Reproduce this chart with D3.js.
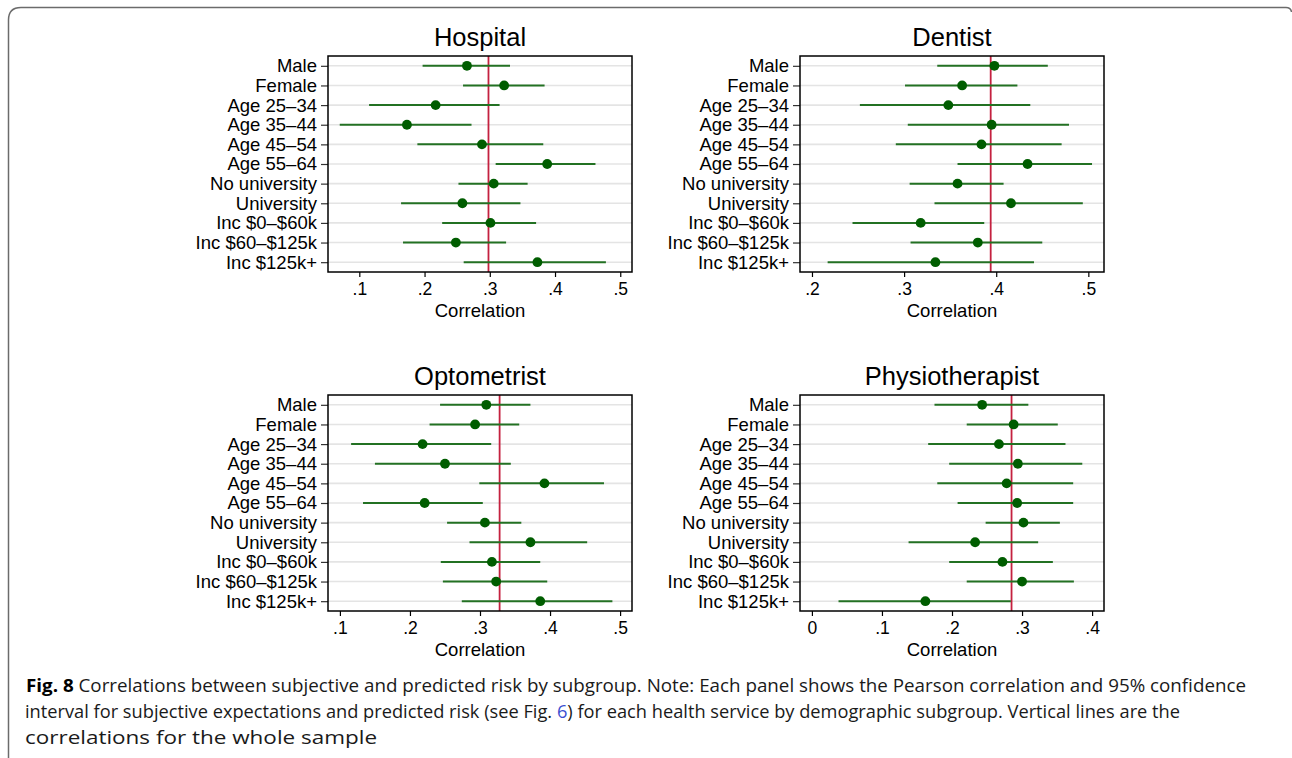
<!DOCTYPE html>
<html>
<head>
<meta charset="utf-8">
<script src="https://cdn.jsdelivr.net/npm/d3@7"></script>
<style>
  html, body { margin: 0; padding: 0; background: #fff; }
  svg { display: block; }
</style>
</head>
<body>
<svg id="fig" width="1292" height="758"></svg>
<script>
// subgroups, top to bottom
const groups = ["Male", "Female", "Age 25\u201334", "Age 35\u201344", "Age 45\u201354", "Age 55\u201364",
  "No university", "University", "Inc $0\u2013$60k", "Inc $60\u2013$125k", "Inc $125k+"];

// Hospital
const hospitalEst = [0.265, 0.322, 0.217, 0.173, 0.288, 0.388, 0.306, 0.258, 0.301, 0.248, 0.373];
const hospitalLo  = [0.197, 0.259, 0.115, 0.070, 0.189, 0.309, 0.252, 0.164, 0.227, 0.167, 0.260];
const hospitalHi  = [0.331, 0.384, 0.315, 0.272, 0.382, 0.462, 0.358, 0.347, 0.371, 0.325, 0.478];
const hospitalAll = 0.298;
const hospitalTicks = [0.1, 0.2, 0.3, 0.4, 0.5];

// Dentist
const dentistEst = [0.398, 0.363, 0.348, 0.395, 0.384, 0.434, 0.358, 0.416, 0.318, 0.380, 0.334];
const dentistLo  = [0.336, 0.301, 0.252, 0.304, 0.291, 0.358, 0.306, 0.333, 0.244, 0.307, 0.217];
const dentistHi  = [0.456, 0.423, 0.437, 0.479, 0.471, 0.504, 0.408, 0.494, 0.387, 0.450, 0.441];
const dentistAll = 0.394;
const dentistTicks = [0.2, 0.3, 0.4, 0.5];

// Optometrist
const optomEst = [0.309, 0.293, 0.218, 0.250, 0.392, 0.221, 0.307, 0.372, 0.317, 0.323, 0.386];
const optomLo  = [0.243, 0.228, 0.116, 0.150, 0.299, 0.133, 0.253, 0.285, 0.244, 0.247, 0.274];
const optomHi  = [0.372, 0.356, 0.316, 0.344, 0.477, 0.304, 0.359, 0.453, 0.386, 0.396, 0.489];
const optomAll = 0.328;
const optomTicks = [0.1, 0.2, 0.3, 0.4, 0.5];

// Physiotherapist
const physioEst = [0.243, 0.288, 0.267, 0.294, 0.278, 0.293, 0.302, 0.233, 0.272, 0.300, 0.162];
const physioLo  = [0.175, 0.221, 0.166, 0.196, 0.179, 0.208, 0.248, 0.138, 0.196, 0.221, 0.038];
const physioHi  = [0.309, 0.351, 0.362, 0.386, 0.373, 0.373, 0.354, 0.323, 0.344, 0.374, 0.284];
const physioAll = 0.285;
const physioTicks = [0, 0.1, 0.2, 0.3, 0.4];

const panels = [
  { title: "Hospital", est: hospitalEst, lo: hospitalLo, hi: hospitalHi, all: hospitalAll,
    ticks: hospitalTicks, domain: [0.052, 0.518], x0: 328, y0: 56 },
  { title: "Dentist", est: dentistEst, lo: dentistLo, hi: dentistHi, all: dentistAll,
    ticks: dentistTicks, domain: [0.187, 0.517], x0: 800, y0: 56 },
  { title: "Optometrist", est: optomEst, lo: optomLo, hi: optomHi, all: optomAll,
    ticks: optomTicks, domain: [0.083, 0.517], x0: 328, y0: 395 },
  { title: "Physiotherapist", est: physioEst, lo: physioLo, hi: physioHi, all: physioAll,
    ticks: physioTicks, domain: [-0.017, 0.417], x0: 800, y0: 395 }
];

const boxW = 304, boxH = 216;
const font = "'Liberation Sans', Arial, Helvetica, sans-serif";
const svg = d3.select("#fig");

// frame round the figure (open at the bottom)
svg.append("path")
  .attr("d", "M8.5,758 L8.5,20 Q8.5,7.5 21,7.5 L1286,7.5 Q1291,7.5 1291.5,12")
  .attr("fill", "none")
  .attr("stroke", "#6b6b6b")
  .attr("stroke-width", 1.5);

function tickLabel(v) {
  if (v === 0) return "0";
  return d3.format(".1f")(v).replace(/^0/, "");
}

panels.forEach(p => {
  const g = svg.append("g").attr("transform", "translate(" + p.x0 + "," + p.y0 + ")");

  const x = d3.scaleLinear().domain(p.domain).range([0, boxW]);
  const y = d3.scalePoint().domain(groups).range([0, boxH]).padding(0.5);

  // light grid lines for each subgroup
  g.selectAll(".grid").data(groups).enter()
    .append("line")
    .attr("x1", 0).attr("x2", boxW)
    .attr("y1", d => y(d)).attr("y2", d => y(d))
    .attr("stroke", "#e4e4e4")
    .attr("stroke-width", 1.6);

  // whole-sample line
  g.append("line")
    .attr("x1", x(p.all)).attr("x2", x(p.all))
    .attr("y1", 0).attr("y2", boxH)
    .attr("stroke", "#c4213f")
    .attr("stroke-width", 1.8);

  // confidence intervals
  g.selectAll(".ci").data(groups).enter()
    .append("line")
    .attr("x1", (d, i) => x(p.lo[i]))
    .attr("x2", (d, i) => x(p.hi[i]))
    .attr("y1", d => y(d)).attr("y2", d => y(d))
    .attr("stroke", "#237123")
    .attr("stroke-width", 2);

  // point estimates
  g.selectAll(".dot").data(groups).enter()
    .append("circle")
    .attr("cx", (d, i) => x(p.est[i]))
    .attr("cy", d => y(d))
    .attr("r", 4.9)
    .attr("fill", "#005d00");

  // y axis
  const yAxis = g.append("g")
    .call(d3.axisLeft(y).tickSize(7).tickPadding(4));
  yAxis.select(".domain").remove();
  yAxis.selectAll(".tick line").attr("stroke", "#333").attr("stroke-width", 1.2);
  yAxis.selectAll(".tick text")
    .attr("fill", "#000")
    .style("font-family", font)
    .style("font-size", "18.5px");

  // x axis
  const xAxis = g.append("g")
    .attr("transform", "translate(0," + boxH + ")")
    .call(d3.axisBottom(x).tickValues(p.ticks).tickFormat(tickLabel).tickSize(5).tickPadding(6));
  xAxis.select(".domain").remove();
  xAxis.selectAll(".tick line").attr("stroke", "#000").attr("stroke-width", 1.2);
  xAxis.selectAll(".tick text")
    .attr("fill", "#000")
    .style("font-family", font)
    .style("font-size", "17.5px");

  // plot frame
  g.append("rect")
    .attr("x", 0).attr("y", 0)
    .attr("width", boxW).attr("height", boxH)
    .attr("fill", "none")
    .attr("stroke", "#000")
    .attr("stroke-width", 1.5);

  // title
  g.append("text")
    .attr("x", boxW / 2).attr("y", -10)
    .attr("text-anchor", "middle")
    .style("font-family", font)
    .style("font-size", "25.5px")
    .text(p.title);

  // axis title
  g.append("text")
    .attr("x", boxW / 2).attr("y", boxH + 45)
    .attr("text-anchor", "middle")
    .style("font-family", font)
    .style("font-size", "18.5px")
    .text("Correlation");
});

// caption
const capFont = "'Open Sans', 'Noto Sans', sans-serif";
const cap = svg.append("g").style("font-family", capFont).style("font-size", "18px").attr("fill", "#1a1a1a");

const line1 = cap.append("text").attr("x", 26).attr("y", 692)
  .attr("textLength", 1220).attr("lengthAdjust", "spacingAndGlyphs");
line1.append("tspan").style("font-weight", "bold").attr("fill", "#000").text("Fig. 8");
line1.append("tspan").text(" Correlations between subjective and predicted risk by subgroup. Note: Each panel shows the Pearson correlation and 95% confidence");

const line2 = cap.append("text").attr("x", 25).attr("y", 718)
  .attr("textLength", 1155).attr("lengthAdjust", "spacingAndGlyphs");
line2.append("tspan").text("interval for subjective expectations and predicted risk (see Fig. ");
line2.append("tspan").attr("fill", "#3a4fd0").text("6");
line2.append("tspan").text(") for each health service by demographic subgroup. Vertical lines are the");

cap.append("text").attr("x", 25).attr("y", 744)
  .attr("textLength", 352).attr("lengthAdjust", "spacingAndGlyphs")
  .text("correlations for the whole sample");
</script>
</body>
</html>
